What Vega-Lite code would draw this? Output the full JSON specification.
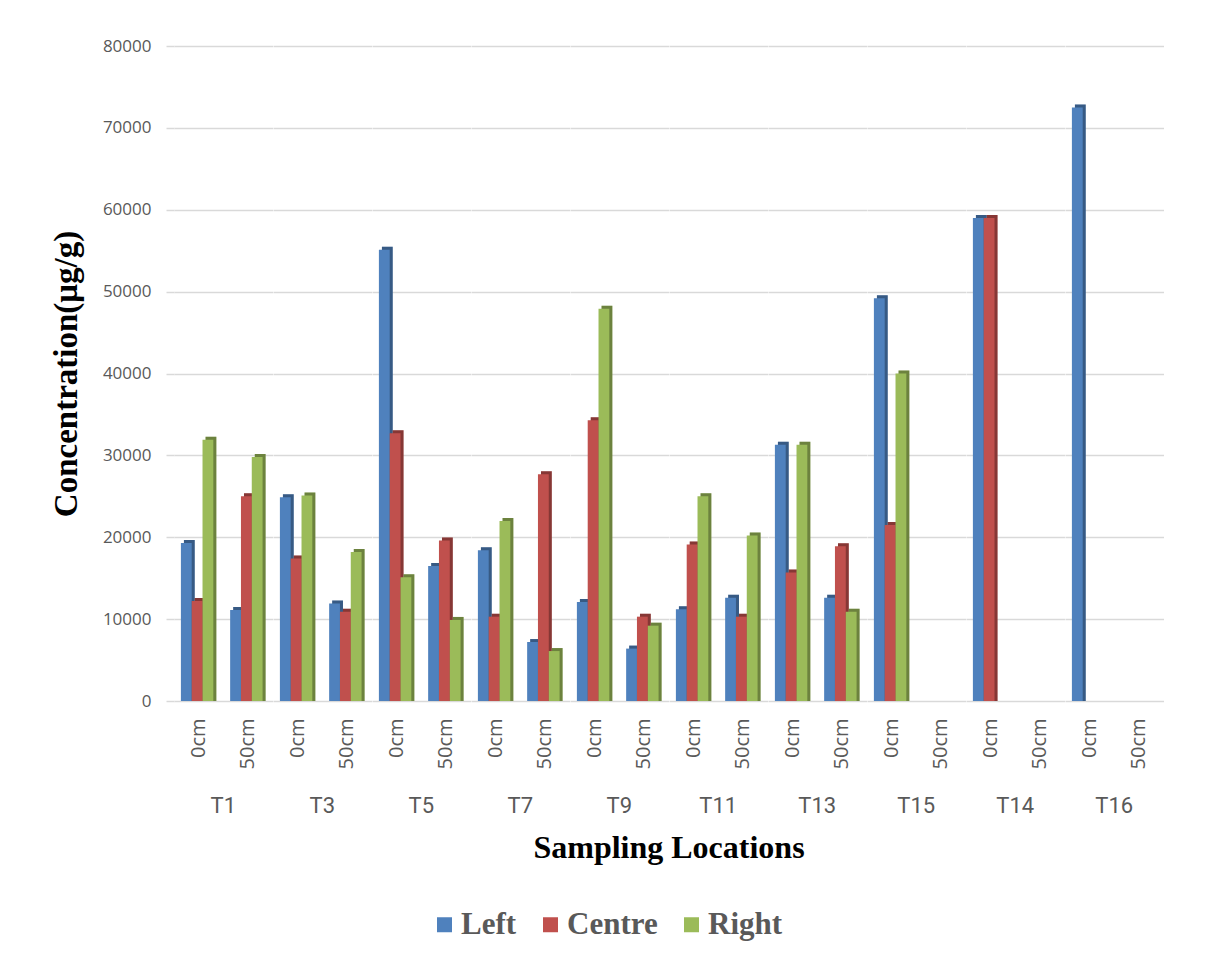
{
  "$schema": "https://vega.github.io/schema/vega-lite/v6.json",
  "background": "white",
  "padding": {"left": 50, "top": 37, "right": 30, "bottom": 10},
  "data": {
    "values": [
      {"location": "T1", "depth": "0cm", "position": "Left", "value": 19300},
      {"location": "T1", "depth": "0cm", "position": "Centre", "value": 12200},
      {"location": "T1", "depth": "0cm", "position": "Right", "value": 31900},
      {"location": "T1", "depth": "50cm", "position": "Left", "value": 11100},
      {"location": "T1", "depth": "50cm", "position": "Centre", "value": 25000},
      {"location": "T1", "depth": "50cm", "position": "Right", "value": 29800},
      {"location": "T3", "depth": "0cm", "position": "Left", "value": 24900},
      {"location": "T3", "depth": "0cm", "position": "Centre", "value": 17400},
      {"location": "T3", "depth": "0cm", "position": "Right", "value": 25100},
      {"location": "T3", "depth": "50cm", "position": "Left", "value": 11900},
      {"location": "T3", "depth": "50cm", "position": "Centre", "value": 10900},
      {"location": "T3", "depth": "50cm", "position": "Right", "value": 18200},
      {"location": "T5", "depth": "0cm", "position": "Left", "value": 55100},
      {"location": "T5", "depth": "0cm", "position": "Centre", "value": 32700},
      {"location": "T5", "depth": "0cm", "position": "Right", "value": 15100},
      {"location": "T5", "depth": "50cm", "position": "Left", "value": 16500},
      {"location": "T5", "depth": "50cm", "position": "Centre", "value": 19600},
      {"location": "T5", "depth": "50cm", "position": "Right", "value": 9900},
      {"location": "T7", "depth": "0cm", "position": "Left", "value": 18400},
      {"location": "T7", "depth": "0cm", "position": "Centre", "value": 10300},
      {"location": "T7", "depth": "0cm", "position": "Right", "value": 22000},
      {"location": "T7", "depth": "50cm", "position": "Left", "value": 7200},
      {"location": "T7", "depth": "50cm", "position": "Centre", "value": 27700},
      {"location": "T7", "depth": "50cm", "position": "Right", "value": 6100},
      {"location": "T9", "depth": "0cm", "position": "Left", "value": 12100},
      {"location": "T9", "depth": "0cm", "position": "Centre", "value": 34300},
      {"location": "T9", "depth": "0cm", "position": "Right", "value": 47900},
      {"location": "T9", "depth": "50cm", "position": "Left", "value": 6400},
      {"location": "T9", "depth": "50cm", "position": "Centre", "value": 10300},
      {"location": "T9", "depth": "50cm", "position": "Right", "value": 9200},
      {"location": "T11", "depth": "0cm", "position": "Left", "value": 11200},
      {"location": "T11", "depth": "0cm", "position": "Centre", "value": 19100},
      {"location": "T11", "depth": "0cm", "position": "Right", "value": 25000},
      {"location": "T11", "depth": "50cm", "position": "Left", "value": 12600},
      {"location": "T11", "depth": "50cm", "position": "Centre", "value": 10300},
      {"location": "T11", "depth": "50cm", "position": "Right", "value": 20200},
      {"location": "T13", "depth": "0cm", "position": "Left", "value": 31300},
      {"location": "T13", "depth": "0cm", "position": "Centre", "value": 15700},
      {"location": "T13", "depth": "0cm", "position": "Right", "value": 31300},
      {"location": "T13", "depth": "50cm", "position": "Left", "value": 12600},
      {"location": "T13", "depth": "50cm", "position": "Centre", "value": 18900},
      {"location": "T13", "depth": "50cm", "position": "Right", "value": 10900},
      {"location": "T15", "depth": "0cm", "position": "Left", "value": 49200},
      {"location": "T15", "depth": "0cm", "position": "Centre", "value": 21500},
      {"location": "T15", "depth": "0cm", "position": "Right", "value": 40000},
      {"location": "T14", "depth": "0cm", "position": "Left", "value": 59000},
      {"location": "T14", "depth": "0cm", "position": "Centre", "value": 59000},
      {"location": "T16", "depth": "0cm", "position": "Left", "value": 72500}
    ]
  },
  "facet": {
    "column": {
      "field": "location",
      "type": "nominal",
      "sort": ["T1", "T3", "T5", "T7", "T9", "T11", "T13", "T15", "T14", "T16"],
      "header": {
        "labelOrient": "bottom",
        "titleOrient": "bottom",
        "title": "Sampling Locations",
        "labelFont": "Liberation Sans Narrow, Roboto, sans-serif",
        "labelFontSize": 22,
        "labelColor": "#595959",
        "labelPadding": 27,
        "titleFont": "Liberation Serif",
        "titleFontSize": 32,
        "titleFontWeight": "bold",
        "titleColor": "#000000",
        "titlePadding": 6
      }
    }
  },
  "spacing": 0,
  "spec": {
    "width": 98.5,
    "height": 655,
    "encoding": {
      "x": {
        "field": "depth",
        "type": "nominal",
        "sort": ["0cm", "50cm"],
        "scale": {"paddingInner": 0.28, "paddingOuter": 0.14},
        "axis": {
          "title": null,
          "domain": false,
          "ticks": false,
          "grid": false,
          "labelAngle": -90,
          "labelFont": "Open Sans",
          "labelFontSize": 20,
          "labelColor": "#595959",
          "labelPadding": 17
        }
      },
      "y": {
        "field": "value",
        "type": "quantitative",
        "stack": null,
        "scale": {"domain": [0, 80000], "nice": false},
        "axis": {
          "title": "Concentration(μg/g)",
          "values": [0, 10000, 20000, 30000, 40000, 50000, 60000, 70000, 80000],
          "format": "d",
          "grid": true,
          "gridColor": "#d9d9d9",
          "gridWidth": 1.5,
          "domain": false,
          "ticks": true,
          "tickColor": "#d9d9d9",
          "tickWidth": 1.5,
          "tickSize": 8,
          "labelFont": "Open Sans",
          "labelFontSize": 17,
          "labelColor": "#595959",
          "labelPadding": 15,
          "titleFont": "Liberation Serif",
          "titleFontSize": 33,
          "titleFontWeight": "bold",
          "titleColor": "#000000",
          "titlePadding": 19
        }
      },
      "color": {
        "field": "position",
        "type": "nominal",
        "scale": {"domain": ["Left", "Centre", "Right"], "range": ["#4f81bd", "#c0504d", "#9bbb59"]},
        "legend": {
          "orient": "none",
          "legendX": 255,
          "legendY": 863,
          "direction": "horizontal",
          "title": null,
          "symbolType": "square",
          "symbolSize": 225,
          "symbolStrokeWidth": 0,
          "labelFont": "Liberation Serif",
          "labelFontSize": 31,
          "labelFontWeight": "bold",
          "labelColor": "#595959",
          "labelOffset": 1,
          "columnPadding": 18
        }
      }
    },
    "layer": [
      {
        "mark": {"type": "bar", "yOffset": -3},
        "encoding": {
          "xOffset": {
            "field": "position",
            "type": "nominal",
            "sort": ["Left", "Centre", "Right"],
            "scale": {"domain": ["Left", "Centre", "Right"], "paddingInner": 0, "paddingOuter": 0.14, "align": 1}
          }
        }
      },
      {
        "mark": {"type": "bar", "yOffset": -3, "color": "#000000", "opacity": 0.3},
        "encoding": {
          "color": {"value": "#000000"},
          "xOffset": {
            "field": "position",
            "type": "nominal",
            "sort": ["Left", "Centre", "Right"],
            "scale": {"domain": ["Left", "Centre", "Right"], "paddingInner": 0, "paddingOuter": 0.14, "align": 1}
          }
        }
      },
      {
        "mark": {"type": "bar"},
        "encoding": {
          "xOffset": {
            "field": "position",
            "type": "nominal",
            "sort": ["Left", "Centre", "Right"],
            "scale": {"domain": ["Left", "Centre", "Right"], "paddingInner": 0, "paddingOuter": 0.14, "align": 0}
          }
        }
      }
    ],
    "resolve": {"scale": {"xOffset": "independent"}}
  },
  "config": {
    "view": {"stroke": null}
  }
}
